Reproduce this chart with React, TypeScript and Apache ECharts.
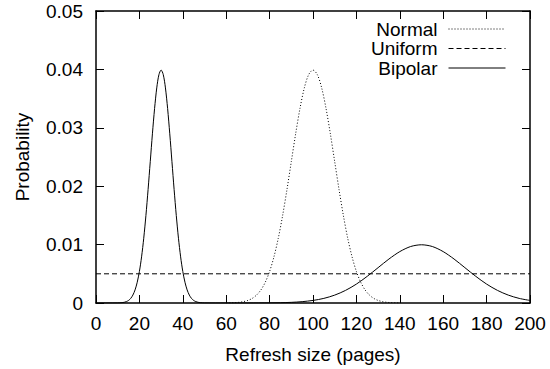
import React, { useEffect, useRef } from "react";
import * as echarts from "echarts";

const xTicks = { min: 0, max: 200, interval: 20 };
const yTicks = { min: 0, max: 0.05, interval: 0.01 };

const normalX = [60, 62, 64, 66, 68, 70, 72, 74, 76, 78, 80, 82, 84, 86, 88, 90, 92, 94, 96, 98, 100,
  102, 104, 106, 108, 110, 112, 114, 116, 118, 120, 122, 124, 126, 128, 130, 132, 134, 136, 138, 140];
const normalY = [0.00001, 0.00003, 0.00006, 0.00012, 0.00024, 0.00044, 0.00079, 0.00136, 0.00224, 0.00355,
  0.0054, 0.0079, 0.01109, 0.01497, 0.01942, 0.0242, 0.02897, 0.03332, 0.03683, 0.0391, 0.03989,
  0.0391, 0.03683, 0.03332, 0.02897, 0.0242, 0.01942, 0.01497, 0.01109, 0.0079, 0.0054,
  0.00355, 0.00224, 0.00136, 0.00079, 0.00044, 0.00024, 0.00012, 0.00006, 0.00003, 0.00001];

const uniformX = [0, 200];
const uniformY = [0.005, 0.005];

const bipolarX = [0, 5, 10, 11, 12, 13, 14, 15, 16, 17, 18, 19, 20, 21, 22, 23, 24, 25, 26, 27, 28, 29, 30,
  31, 32, 33, 34, 35, 36, 37, 38, 39, 40, 41, 42, 43, 44, 45, 46, 47, 48, 49, 50,
  55, 60, 65, 70, 75, 80, 85, 90, 95, 100, 105, 110, 115, 120, 125, 130, 135, 140, 145, 150,
  155, 160, 165, 170, 175, 180, 185, 190, 195, 200];
const bipolarY = [0, 0, 0.00001, 0.00003, 0.00006, 0.00012, 0.00024, 0.00044, 0.00079, 0.00136, 0.00224, 0.00355,
  0.0054, 0.0079, 0.01109, 0.01497, 0.01942, 0.0242, 0.02897, 0.03332, 0.03683, 0.0391, 0.03989,
  0.0391, 0.03683, 0.03332, 0.02897, 0.0242, 0.01942, 0.01497, 0.01109, 0.0079, 0.0054,
  0.00355, 0.00224, 0.00136, 0.00079, 0.00044, 0.00024, 0.00012, 0.00006, 0.00003, 0.00001,
  0, 0, 0, 0, 0.00001, 0.00002, 0.00005, 0.00011, 0.00023, 0.00044, 0.00079, 0.00135, 0.00216, 0.00324,
  0.00457, 0.00605, 0.00753, 0.0088, 0.00967, 0.00997,
  0.00967, 0.0088, 0.00753, 0.00605, 0.00457, 0.00324, 0.00216, 0.00135, 0.00079, 0.00044];

const seriesNames = ["Normal", "Uniform", "Bipolar"];

const zip = (xs: number[], ys: number[]) => xs.map((x, i) => [x, ys[i]]);

const FONT = "Liberation Sans, Arial, Helvetica, sans-serif";
const FS = 19;

export default function App() {
  const ref = useRef<HTMLDivElement>(null);
  useEffect(() => {
    if (!ref.current) return;
    const chart = echarts.init(ref.current, undefined, { renderer: "svg" });
    const axisLine = { show: true, onZero: false, lineStyle: { color: "#000", width: 1.5 } };
    const tick = { show: true, inside: true, length: 8, lineStyle: { color: "#000", width: 1 } };
    chart.setOption({
      animation: false,
      backgroundColor: "#fff",
      textStyle: { fontFamily: FONT },
      grid: { left: 96, right: 20, top: 11, bottom: 66, containLabel: false },
      legend: {
        data: seriesNames,
        right: 39,
        top: 14.5,
        orient: "vertical",
        align: "right",
        itemWidth: 57,
        itemHeight: 14,
        itemGap: 0.5,
        itemStyle: { opacity: 0 },
        lineStyle: { width: 1 },
        textStyle: { fontFamily: FONT, fontSize: FS, color: "#000", padding: [0, 6, 0, 0] },
      },
      xAxis: [
        {
          type: "value",
          ...xTicks,
          position: "bottom",
          name: "Refresh size (pages)",
          nameLocation: "middle",
          nameGap: 42,
          nameTextStyle: { fontFamily: FONT, fontSize: FS, color: "#000" },
          axisLine,
          axisTick: tick,
          axisLabel: { fontFamily: FONT, fontSize: FS, color: "#000", margin: 11 },
          splitLine: { show: false },
        },
        {
          type: "value",
          ...xTicks,
          position: "top",
          axisLine,
          axisTick: tick,
          axisLabel: { show: false },
          splitLine: { show: false },
        },
      ],
      yAxis: [
        {
          type: "value",
          ...yTicks,
          position: "left",
          name: "Probability",
          nameLocation: "middle",
          nameGap: 64,
          nameTextStyle: { fontFamily: FONT, fontSize: FS, color: "#000" },
          axisLine,
          axisTick: tick,
          axisLabel: { fontFamily: FONT, fontSize: FS, color: "#000", margin: 13 },
          splitLine: { show: false },
        },
        {
          type: "value",
          ...yTicks,
          position: "right",
          axisLine,
          axisTick: tick,
          axisLabel: { show: false },
          splitLine: { show: false },
        },
      ],
      series: [
        {
          name: "Normal",
          type: "line",
          data: zip(normalX, normalY),
          showSymbol: false,
          symbol: "none",
          smooth: 0.3,
          lineStyle: { color: "#000", width: 1, type: [1, 2] },
          itemStyle: { color: "#000" },
        },
        {
          name: "Uniform",
          type: "line",
          data: zip(uniformX, uniformY),
          showSymbol: false,
          symbol: "none",
          lineStyle: { color: "#000", width: 1, type: [5, 3] },
          itemStyle: { color: "#000" },
        },
        {
          name: "Bipolar",
          type: "line",
          data: zip(bipolarX, bipolarY),
          showSymbol: false,
          symbol: "none",
          smooth: 0.3,
          lineStyle: { color: "#000", width: 1 },
          itemStyle: { color: "#000" },
        },
      ],
    });
    return () => chart.dispose();
  }, []);
  return (
    <div
      ref={ref}
      style={{ position: "fixed", left: 0, top: 0, width: 550, height: 369, background: "#fff" }}
    />
  );
}
